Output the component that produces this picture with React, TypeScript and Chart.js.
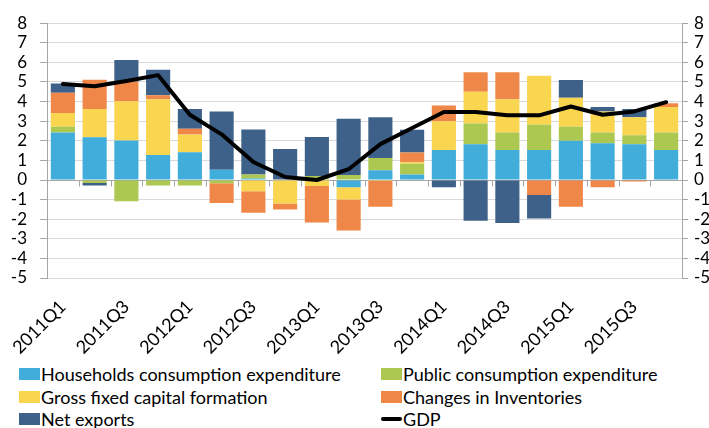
import React, { useEffect, useRef } from 'react';
import { Chart, registerables } from 'chart.js';

Chart.register(...registerables);

const quarters = [
  '2011Q1', '2011Q2', '2011Q3', '2011Q4',
  '2012Q1', '2012Q2', '2012Q3', '2012Q4',
  '2013Q1', '2013Q2', '2013Q3', '2013Q4',
  '2014Q1', '2014Q2', '2014Q3', '2014Q4',
  '2015Q1', '2015Q2', '2015Q3', '2015Q4',
];

const households = [2.42, 2.18, 2.02, 1.28, 1.42, 0.52, 0.08, 0, 0, -0.37, 0.5, 0.28, 1.53, 1.82, 1.53, 1.53, 2.0, 1.87, 1.82, 1.53];
const publicConsumption = [0.3, -0.15, -1.08, -0.28, -0.28, -0.17, 0.2, 0, 0.2, 0.25, 0.62, 0.55, 0, 1.06, 0.89, 1.29, 0.72, 0.55, 0.46, 0.89];
const grossFixedCapital = [0.7, 1.44, 2.0, 2.84, 0.9, 0, -0.58, -1.2, -0.3, -0.63, -0.05, 0.07, 1.47, 1.62, 1.7, 2.5, 1.48, 1.08, 0.92, 1.3];
const inventories = [1.03, 1.5, 1.0, 0.2, 0.3, -1.0, -1.09, -0.3, -1.87, -1.58, -1.32, 0.5, 0.8, 1.0, 1.38, -0.77, -1.37, -0.37, -0.08, 0.2];
const netExports = [0.47, -0.13, 1.1, 1.3, 1.0, 2.98, 2.3, 1.58, 2.0, 2.87, 2.08, 1.16, -0.37, -2.08, -2.2, -1.2, 0.9, 0.22, 0.42, 0];
const gdp = [4.9, 4.78, 5.05, 5.35, 3.33, 2.33, 0.92, 0.15, 0.0, 0.55, 1.83, 2.65, 3.47, 3.47, 3.3, 3.3, 3.75, 3.33, 3.5, 3.97];

const yTicks = { min: -5, max: 8, step: 1 };

const COLORS = {
  households: '#41ADDA',
  public: '#ADC850',
  gfcf: '#F9D550',
  inventories: '#EE8747',
  net: '#3E6189',
  gdp: '#000000',
};

const FONT = 'Lato, "Open Sans", sans-serif';
const W = 709;
const H = 360;
const PLOT_BOTTOM = 278;

const legendItems = [
  { label: 'Households consumption expenditure', color: COLORS.households, line: false, col: 0, row: 0 },
  { label: 'Public consumption expenditure', color: COLORS.public, line: false, col: 1, row: 0 },
  { label: 'Gross fixed capital formation', color: COLORS.gfcf, line: false, col: 0, row: 1 },
  { label: 'Changes in Inventories', color: COLORS.inventories, line: false, col: 1, row: 1 },
  { label: 'Net exports', color: COLORS.net, line: false, col: 0, row: 2 },
  { label: 'GDP', color: COLORS.gdp, line: true, col: 1, row: 2 },
];

const zeroAxisPlugin = {
  id: 'zeroAxis',
  beforeDatasetsDraw(chart: any) {
    const { ctx, chartArea, scales } = chart;
    const y0 = Math.round(scales.y.getPixelForValue(0)) + 0.5;
    const n = quarters.length;
    const step = (chartArea.right - chartArea.left) / n;
    ctx.save();
    ctx.strokeStyle = '#a6a6a6';
    ctx.lineWidth = 1;
    ctx.beginPath();
    ctx.moveTo(chartArea.left, y0);
    ctx.lineTo(chartArea.right, y0);
    for (let i = 1; i < n; i++) {
      const xx = Math.round(chartArea.left + i * step) + 0.5;
      ctx.moveTo(xx, y0);
      ctx.lineTo(xx, y0 + 6);
    }
    ctx.stroke();
    ctx.restore();
  },
};

export default function App() {
  const canvasRef = useRef<HTMLCanvasElement | null>(null);

  useEffect(() => {
    if (!canvasRef.current) return;
    const yFont = { family: FONT, size: 17 };
    const xFont = { family: FONT, size: 18 };
    const barDs = (label: string, data: number[], color: string) => ({
      type: 'bar' as const,
      label,
      data,
      backgroundColor: color,
      borderWidth: 0,
      stack: 'components',
      barPercentage: 0.76,
      categoryPercentage: 1,
      order: 1,
    });
    const chart = new Chart(canvasRef.current, {
      type: 'bar',
      data: {
        labels: quarters,
        datasets: [
          barDs('Households consumption expenditure', households, COLORS.households),
          barDs('Public consumption expenditure', publicConsumption, COLORS.public),
          barDs('Gross fixed capital formation', grossFixedCapital, COLORS.gfcf),
          barDs('Changes in Inventories', inventories, COLORS.inventories),
          barDs('Net exports', netExports, COLORS.net),
          {
            type: 'line' as const,
            label: 'GDP',
            data: gdp,
            borderColor: COLORS.gdp,
            backgroundColor: COLORS.gdp,
            borderWidth: 4,
            pointRadius: 0,
            tension: 0,
            fill: false,
            stack: 'gdp',
            order: 0,
            borderJoinStyle: 'round',
            borderCapStyle: 'round',
          } as any,
        ],
      },
      options: {
        responsive: false,
        animation: false,
        layout: { padding: { top: 18, left: 0, right: 0, bottom: 0 } },
        plugins: {
          legend: { display: false },
          tooltip: { enabled: false },
        },
        scales: {
          x: {
            stacked: true,
            grid: { display: false },
            border: { display: false },
            ticks: {
              autoSkip: false,
              maxRotation: 45,
              minRotation: 45,
              padding: 10,
              color: '#000',
              font: xFont,
              callback: (_v: any, i: number) => (i % 2 === 0 ? quarters[i] : ''),
            },
            afterFit: (axis: any) => {
              axis.height = H - PLOT_BOTTOM;
            },
          },
          y: {
            stacked: true,
            position: 'left',
            min: yTicks.min,
            max: yTicks.max,
            ticks: { stepSize: yTicks.step, autoSkip: false, padding: 13, color: '#000', font: yFont },
            grid: { color: '#d9d9d9', tickColor: '#a6a6a6', tickLength: 7 },
            border: { color: '#a6a6a6' },
            afterFit: (axis: any) => {
              axis.width = 47;
            },
          },
          y2: {
            position: 'right',
            min: yTicks.min,
            max: yTicks.max,
            ticks: { stepSize: yTicks.step, autoSkip: false, padding: 6, color: '#000', font: yFont },
            grid: { drawOnChartArea: false, tickColor: '#a6a6a6', tickLength: 6 },
            border: { color: '#a6a6a6' },
            afterFit: (axis: any) => {
              axis.width = 27;
            },
          },
        },
      } as any,
      plugins: [zeroAxisPlugin],
    });
    return () => chart.destroy();
  }, []);

  const colX = [19, 381];
  const rowCenter = [373.5, 396.5, 419];

  return (
    <div style={{ position: 'absolute', left: 0, top: 0, width: W, height: 428, fontFamily: FONT, background: '#fff', overflow: 'hidden' }}>
      <canvas ref={canvasRef} width={W} height={H} style={{ position: 'absolute', left: 0, top: 0, width: W, height: H }} />
      {legendItems.map((it) => (
        <div
          key={it.label}
          style={{
            position: 'absolute',
            left: colX[it.col],
            top: rowCenter[it.row] - 12,
            height: 24,
            display: 'flex',
            alignItems: 'center',
            whiteSpace: 'nowrap',
            fontSize: 18,
            color: '#000',
          }}
        >
          <span
            style={{
              display: 'inline-block',
              width: 21,
              height: it.line ? 4 : 12,
              borderRadius: it.line ? 2 : 0,
              background: it.color,
              marginRight: 1,
            }}
          />
          <span>{it.label}</span>
        </div>
      ))}
    </div>
  );
}
